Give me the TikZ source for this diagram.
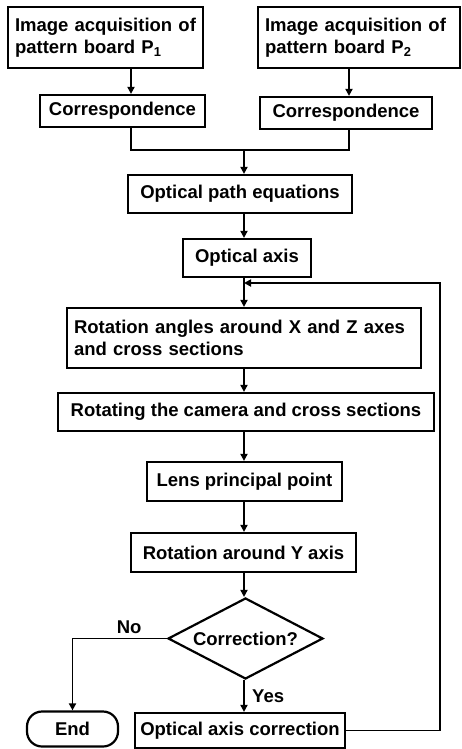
\documentclass[tikz,border=0pt]{standalone}
\usepackage{fontspec}
\setmainfont{Liberation Sans}
\usepackage{tikz}
\usetikzlibrary{shapes.geometric, arrows.meta, positioning, calc}

\tikzset{
    blok/.style={draw, line width=2.2pt, inner sep=0pt, align=center,
        font=\fontsize{18.5}{22}\selectfont\bfseries},
    blokL/.style={blok, align=left},
    decyzja/.style={draw, diamond, aspect=1.9, line width=2.2pt, inner sep=0pt,
        font=\fontsize{18.5}{22}\selectfont\bfseries},
    koniec/.style={draw, rounded corners=15pt, line width=2.2pt, inner sep=0pt,
        font=\fontsize{18.5}{22}\selectfont\bfseries},
    strz/.style={line width=1.8pt, -{Triangle[length=7pt,width=7pt]}},
    linia/.style={line width=1.8pt},
    opis/.style={font=\fontsize{18.5}{22}\selectfont\bfseries}
}

\begin{document}
\begin{tikzpicture}[x=1pt, y=-1pt]
        % === RAMKA ===
        \useasboundingbox (0,0) rectangle (462,749);

        % === 1. AKWIZYCJA OBRAZOW ===
        \node[blokL, minimum width=195pt, minimum height=61pt, text width=181pt]
            (imgA) at (105.5,37.5) {Image acquisition of\\pattern board P\textsubscript{1}};
        \node[blokL, minimum width=202pt, minimum height=61pt, text width=188pt]
            (imgB) at (359,37.5) {Image acquisition of\\pattern board P\textsubscript{2}};

        % === 2. KORESPONDENCJA ===
        \node[blok, minimum width=165pt, minimum height=32pt] (corrA) at (122.5,111) {Correspondence};
        \node[blok, minimum width=172pt, minimum height=32pt] (corrB) at (346,113) {Correspondence};

        \coordinate (colA) at (131,0);
        \coordinate (colB) at (349,0);
        \coordinate (colM) at (244,0);
        \coordinate (merge) at (244,150);

        \draw[strz] (imgA.south -| colA) -- (corrA.north -| colA);
        \draw[strz] (imgB.south -| colB) -- (corrB.north -| colB);

        % === 3. GLOWNA KOLUMNA ===
        \node[blok, minimum width=224pt, minimum height=38pt] (path) at (240,194) {Optical path equations};
        \node[blok, minimum width=128pt, minimum height=38pt] (axis) at (247,258) {Optical axis};
        \node[blokL, minimum width=354pt, minimum height=60pt, text width=340pt]
            (angles) at (244,338) {Rotation angles around X and Z axes\\and cross sections};
        \node[blok, minimum width=376pt, minimum height=38pt] (rotcam) at (246,412)
            {Rotating the camera and cross sections};
        \node[blok, minimum width=195pt, minimum height=39pt] (lens) at (244.5,481.5) {Lens principal point};
        \node[blok, minimum width=225pt, minimum height=39pt] (roty) at (243.5,552.5) {Rotation around Y axis};
        \node[decyzja, minimum width=155pt, minimum height=81pt] (dec) at (245.5,638.5) {Correction?};
        \node[blok, minimum width=210pt, minimum height=35pt] (corr) at (240,730.5) {Optical axis correction};
        \node[koniec, minimum width=91pt, minimum height=35pt] (end) at (72.5,729) {End};

        % === 4. POLACZENIA ===
        \draw[linia] (corrA.south -| colA) |- (merge) -| (corrB.south -| colB);
        \draw[strz] (merge) -- (path.north -| colM);
        \draw[strz] (path.south -| colM) -- (axis.north -| colM);
        \draw[strz] (axis.south -| colM) -- (angles.north -| colM);
        \draw[strz] (angles.south -| colM) -- (rotcam.north -| colM);
        \draw[strz] (rotcam.south -| colM) -- (lens.north -| colM);
        \draw[strz] (lens.south -| colM) -- (roty.north -| colM);
        \draw[strz] (roty.south -| colM) -- (dec.north -| colM);
        \draw[strz] (dec.south -| colM) -- (corr.north -| colM)
            node[opis, pos=0.5, right=4pt] {Yes};
        \draw[strz] (dec.west) -| (end.north)
            node[opis, pos=0.2, above=1pt] {No};

        % === 5. PETLA KOREKCJI ===
        \coordinate (loop) at (440,283);
        \draw[strz] (corr.east) -| (loop) -- (loop -| colM);

    \end{tikzpicture}
\end{document}
